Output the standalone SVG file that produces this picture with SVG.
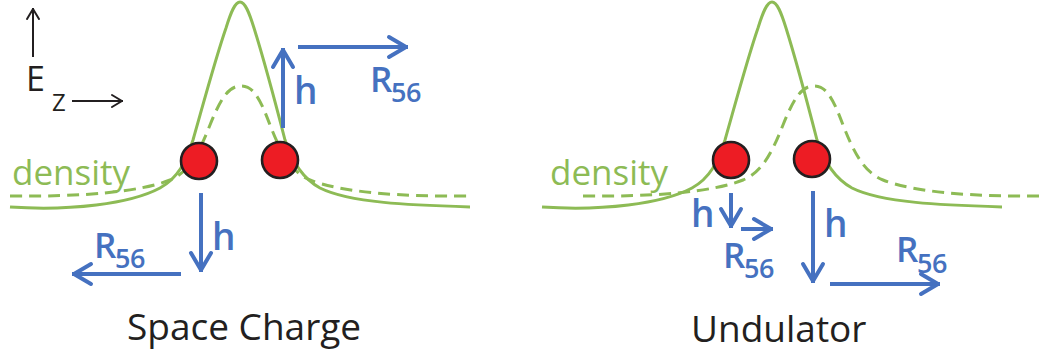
<svg xmlns="http://www.w3.org/2000/svg" width="1039" height="358" viewBox="0 0 1039 358">
<style>
.sol{fill:none;stroke:#8DBB55;stroke-width:3}
.dash{fill:none;stroke:#8DBB55;stroke-width:3;stroke-dasharray:12 7}
.dot{fill:#ED1C24;stroke:#231F20;stroke-width:2.6}
.ba{fill:none;stroke:#4571C0;stroke-width:4;marker-end:url(#mb)}
.ka{fill:none;stroke:#231F20;stroke-width:2;marker-end:url(#mk)}
.t{font-family:"Open Sans","Noto Sans",sans-serif}
.lab{font-family:"Open Sans","Noto Sans",sans-serif;fill:#231F20;font-size:37px}
.den{font-family:"Open Sans","Noto Sans",sans-serif;fill:#8DBB55;font-size:35px}
.h{font-family:"Open Sans","Noto Sans",sans-serif;fill:#4571C0;font-size:37px;font-weight:600}
.r{font-family:"Open Sans","Noto Sans",sans-serif;fill:#4571C0;font-size:35px;font-weight:600}
.s{font-family:"Open Sans","Noto Sans",sans-serif;fill:#4571C0;font-size:27px;font-weight:600;letter-spacing:-0.5px}
</style>
<defs>
<marker id="mb" viewBox="-22 -13 26 26" markerWidth="26" markerHeight="26" refX="0" refY="0" orient="auto" markerUnits="userSpaceOnUse" overflow="visible">
<path d="M-19,-10 L-2,0 L-19,10" fill="none" stroke="#4571C0" stroke-width="4" stroke-linejoin="round" stroke-linecap="round"/>
</marker>
<marker id="mk" viewBox="-14 -8 16 16" markerWidth="16" markerHeight="16" refX="0" refY="0" orient="auto" markerUnits="userSpaceOnUse" overflow="visible">
<path d="M-11,-6 L-1,0 L-11,6" fill="none" stroke="#231F20" stroke-width="2" stroke-linejoin="round" stroke-linecap="round"/>
</marker>
<path id="solid" d="M10,207 C70,211 130,204 160,188 C178,178 186,162 193,140 C203,105 215,60 226,28 C231,12 235,2 240,2 C245,2 249,12 254,28 C264,60 276,105 285,140 C292,162 302,178 320,188 C350,203 410,205 470,207"/>
<path id="dashc" d="M10,196 C80,197 140,192 170,180 C190,172 200,150 210,125 C222,95 230,86 241,86 C252,86 259,95 270,125 C280,150 290,172 310,180 C340,192 400,197 468,196"/>
</defs>

<g id="axes">
<path class="ka" d="M33,57 L33,8"/>
<path class="ka" d="M72,101 L123,101"/>
<text class="t" x="26" y="91" font-size="34" fill="#231F20">E</text>
<text class="t" x="52" y="111" font-size="24" fill="#231F20">Z</text>
</g>

<g id="space-charge">
<use href="#dashc" class="dash"/>
<use href="#solid" class="sol"/>
<text class="den" x="12" y="185">density</text>
<circle id="sc-dot-left" class="dot" cx="199" cy="161" r="18"/>
<circle id="sc-dot-right" class="dot" cx="280" cy="160" r="18"/>
<text class="h" x="294" y="104">h</text>
<text class="r" x="370" y="92">R</text><text class="s" x="391" y="102">56</text>
<text class="h" x="212" y="250">h</text>
<text class="r" x="94" y="258">R</text><text class="s" x="115" y="268">56</text>
<text class="lab" x="127" y="340">Space Charge</text>
</g>

<g id="undulator">
<use href="#dashc" class="dash" transform="translate(573,0)"/>
<use href="#solid" class="sol" transform="translate(532,0)"/>
<text class="den" x="550" y="185">density</text>
<circle id="un-dot-left" class="dot" cx="731" cy="160" r="18"/>
<circle id="un-dot-right" class="dot" cx="812" cy="159" r="18"/>
<text class="h" x="691" y="227">h</text>
<text class="r" x="723" y="268">R</text><text class="s" x="744" y="278">56</text>
<text class="h" x="824" y="237">h</text>
<text class="r" x="896" y="262">R</text><text class="s" x="917" y="273">56</text>
<text class="lab" x="691" y="342">Undulator</text>
</g>

<g id="connectors">
<path class="ba" d="M283,128 L283,48"/>
<path class="ba" d="M298,47 L408,47"/>
<path class="ba" d="M201,193 L201,272"/>
<path class="ba" d="M181,274 L72,274"/>
<path class="ba" d="M731,193 L731,228"/>
<path class="ba" d="M741,229 L773,229"/>
<path class="ba" d="M813,191 L813,283"/>
<path class="ba" d="M830,284 L940,284"/>
</g>
</svg>
